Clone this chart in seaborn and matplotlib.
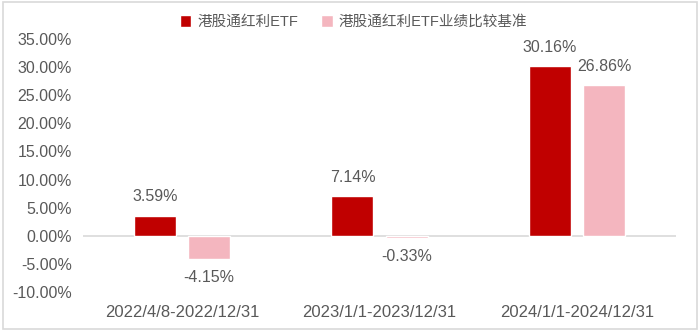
import matplotlib
matplotlib.use("Agg")
import matplotlib.pyplot as plt
import seaborn as sns
import pandas as pd
from matplotlib.patches import Rectangle

categories = ["2022/4/8-2022/12/31", "2023/1/1-2023/12/31", "2024/1/1-2024/12/31"]
series_names = ["港股通红利ETF", "港股通红利ETF业绩比较基准"]
etf_values = [3.59, 7.14, 30.16]
bench_values = [-4.15, -0.33, 26.86]
y_ticks = [-10, -5, 0, 5, 10, 15, 20, 25, 30, 35]

df = pd.DataFrame({
    "period": categories * 2,
    "series": [series_names[0]] * 3 + [series_names[1]] * 3,
    "value": etf_values + bench_values,
})

sns.set_theme(style="white")
plt.rcParams["font.family"] = ["Liberation Sans", "Noto Sans CJK SC", "DejaVu Sans"]
gray = "#595959"
fs = 11.5

fig = plt.figure(figsize=(7, 3.31), dpi=100)
ax = fig.add_axes([0.1186, 0.1178, 0.8471, 0.7644])

sns.barplot(data=df, x="period", y="value", hue="series", order=categories,
            hue_order=series_names, palette=["#C00000", "#F4B6BF"],
            width=0.547, gap=0.223, saturation=1, ax=ax, legend=True)

for cont in ax.containers:
    ax.bar_label(cont, fmt="%.2f%%", padding=8, fontsize=fs, color=gray)

ax.set_xlim(-0.5, 2.5)
ax.set_ylim(-10, 35)
ax.set_yticks(y_ticks)
ax.set_yticklabels([f"{v:.2f}%" for v in y_ticks])
ax.tick_params(axis="y", length=0, pad=8, labelsize=fs, labelcolor=gray)
ax.tick_params(axis="x", length=0, pad=9, labelsize=12, labelcolor=gray)
ax.set_xlabel("")
ax.set_ylabel("")
for s in ax.spines.values():
    s.set_visible(False)
ax.axhline(0, color="#D9D9D9", lw=1.2, zorder=0.5)

handles, labels = ax.get_legend_handles_labels()
ax.get_legend().remove()
fig.legend(handles, labels, loc="center", bbox_to_anchor=(0.505, 1 - 22 / 331),
           ncol=2, frameon=False, handlelength=0.8, handleheight=0.8,
           handletextpad=0.4, columnspacing=1.6, fontsize=10.5, labelcolor=gray)

fig.patches.append(Rectangle((0.004, 0.006), 0.992, 0.988, transform=fig.transFigure,
                             fill=False, edgecolor="#D9D9D9", lw=1.2))

fig.savefig("out.png", dpi=100)
